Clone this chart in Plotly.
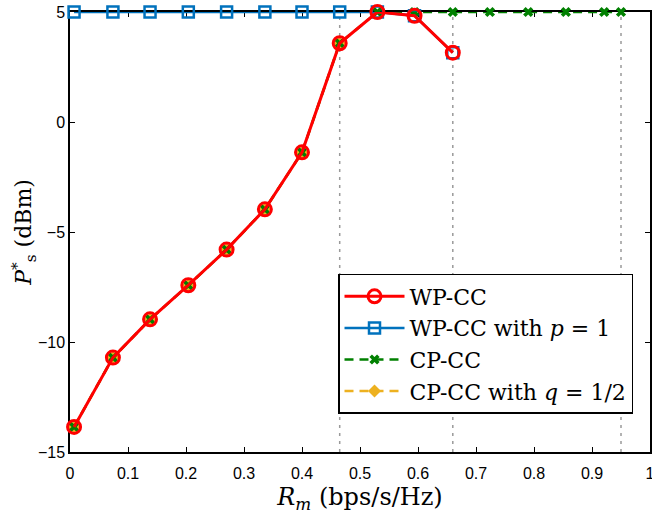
import plotly.graph_objects as go

# Data
x_wp = [0.007, 0.074, 0.138, 0.204, 0.27, 0.336, 0.4, 0.465, 0.53, 0.594, 0.66]
y_wp = [-13.86, -10.71, -8.97, -7.42, -5.8, -3.97, -1.38, 3.58, 5.0, 4.83, 3.15]

x_wp_p1 = [0.007, 0.074, 0.138, 0.204, 0.27, 0.336, 0.4, 0.465, 0.53, 0.594, 0.66]
y_wp_p1 = [5, 5, 5, 5, 5, 5, 5, 5, 5, 4.83, 3.15]

x_cp = [0.007, 0.074, 0.138, 0.204, 0.27, 0.336, 0.4, 0.465, 0.53, 0.594, 0.66, 0.724, 0.79, 0.855, 0.921, 0.95]
y_cp = [-13.86, -10.71, -8.97, -7.42, -5.8, -3.97, -1.38, 3.58, 5.0, 5, 5, 5, 5, 5, 5, 5]

x_cp_q = [0.007, 0.074, 0.138, 0.204, 0.27, 0.336, 0.4, 0.465]
y_cp_q = [-13.86, -10.71, -8.97, -7.42, -5.8, -3.97, -1.38, 3.58]

vlines_x = [0.465, 0.66, 0.95]

x_ticks = [0, 0.1, 0.2, 0.3, 0.4, 0.5, 0.6, 0.7, 0.8, 0.9, 1]
x_ticklabels = ["0", "0.1", "0.2", "0.3", "0.4", "0.5", "0.6", "0.7", "0.8", "0.9", "1"]
y_ticks = [-15, -10, -5, 0, 5]
y_ticklabels = ["\u221215", "\u221210", "\u22125", "0", "5"]
y_range = [-15, 5]

RED = "#FF0000"
BLUE = "#0072BD"
GREEN = "#008000"
YELLOW = "#EDB120"
SERIF = "DejaVu Serif, serif"

fig = go.Figure()

for vx in vlines_x:
    fig.add_trace(go.Scatter(x=[vx, vx], y=y_range, mode="lines",
                             line=dict(color="#9a9a9a", width=1.5, dash="3px,5px"),
                             showlegend=False, hoverinfo="skip"))

fig.add_trace(go.Scatter(x=x_cp_q, y=y_cp_q, mode="lines+markers", name="CP-CC with <i>q</i> = 1/2",
                         line=dict(color=YELLOW, width=2.5, dash="9px,6px"),
                         marker=dict(symbol="diamond", size=10, color=YELLOW),
                         cliponaxis=False, legendrank=4))
fig.add_trace(go.Scatter(x=x_cp, y=y_cp, mode="lines+markers", name="CP-CC",
                         line=dict(color=GREEN, width=2.5, dash="9px,6px"),
                         marker=dict(symbol="x", size=9, color=GREEN, line=dict(width=0)),
                         cliponaxis=False, legendrank=3))
fig.add_trace(go.Scatter(x=x_wp_p1, y=y_wp_p1, mode="lines+markers", name="WP-CC with <i>p</i> = 1",
                         line=dict(color=BLUE, width=2.5),
                         marker=dict(symbol="square-open", size=11, color=BLUE, line=dict(width=2.5)),
                         cliponaxis=False, legendrank=2))
fig.add_trace(go.Scatter(x=x_wp, y=y_wp, mode="lines+markers", name="WP-CC",
                         line=dict(color=RED, width=3),
                         marker=dict(symbol="circle-open", size=13, color=RED, line=dict(width=3)),
                         cliponaxis=False, legendrank=1))

axis_common = dict(showline=True, linecolor="black", linewidth=1.5, mirror="ticks",
                   ticks="inside", ticklen=5, tickcolor="black", showgrid=False, zeroline=False,
                   layer="below traces", automargin=False, ticklabeloverflow="allow",
                   tickfont=dict(family="Liberation Sans, Arial, sans-serif", size=16, color="black"))

fig.update_layout(
    width=652, height=514,
    margin=dict(l=70, r=2, t=12, b=62),
    paper_bgcolor="white", plot_bgcolor="white",
    xaxis=dict(range=[0, 1], tickvals=x_ticks, ticktext=x_ticklabels, ticklabelstandoff=6,
               title=dict(text="<i>R<sub>m</sub></i> (bps/s/Hz)", standoff=8,
                          font=dict(family=SERIF, size=24, color="black")),
               **axis_common),
    yaxis=dict(range=y_range, tickvals=y_ticks, ticktext=y_ticklabels,
               title=dict(text="<i>P</i><sup>*</sup><sub>s</sub> (dBm)", standoff=0,
                          font=dict(family=SERIF, size=22, color="black")),
               **axis_common),
    legend=dict(x=0.9707, y=0.0864, xanchor="right", yanchor="bottom",
                bgcolor="white", bordercolor="black", borderwidth=1.5,
                font=dict(family=SERIF, size=22, color="black"),
                itemwidth=60, tracegroupgap=0),
    showlegend=True,
)

fig.write_html("out.html", config={"displayModeBar": False},
               post_script="document.body.style.margin='0';document.body.style.overflow='hidden';")
